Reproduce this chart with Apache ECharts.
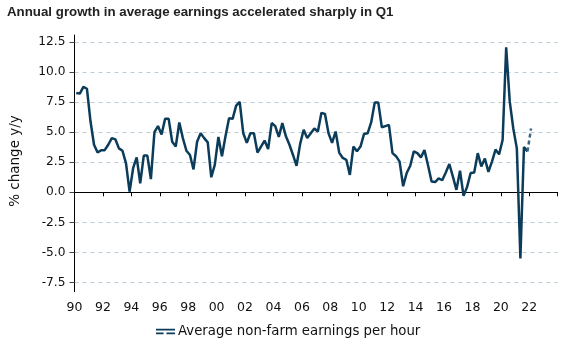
<!DOCTYPE html>
<html>
<head>
<meta charset="utf-8">
<script src="https://cdn.jsdelivr.net/npm/echarts@6/dist/echarts.min.js"></script>
<style>
html,body{margin:0;padding:0;background:#fff;}
#chart{width:572px;height:346px;}
</style>
</head>
<body>
<div id="chart"></div>
<script>
// Quarterly data, first quarter = 1990 Q1
const startYear = 1990;
const earningsGrowth = [
  8.25, 8.2, 8.75, 8.6,   // 1990
  5.9, 3.95, 3.3, 3.5,    // 1991
  3.5, 3.95, 4.5, 4.4,    // 1992
  3.65, 3.45, 2.4, 0.05,  // 1993
  2.0, 2.9, 0.75, 3.05,   // 1994
  3.05, 1.1, 5.0, 5.5,    // 1995
  4.8, 6.1, 6.1, 4.2,     // 1996
  3.8, 5.8, 4.5, 3.45,    // 1997
  3.1, 1.9, 4.2, 4.9,     // 1998
  4.5, 4.15, 1.25, 2.3,   // 1999
  4.6, 3.0, 4.65, 6.15,   // 2000
  6.1, 7.2, 7.5, 4.9,     // 2001
  4.1, 4.9, 4.9, 3.3,     // 2002
  3.8, 4.3, 3.6, 5.75,    // 2003
  5.5, 4.6, 5.75, 4.65,   // 2004
  3.95, 3.1, 2.2, 4.0,    // 2005
  5.2, 4.5, 4.9, 5.3,     // 2006
  5.05, 6.6, 6.5, 4.9,    // 2007
  4.1, 5.05, 3.3, 2.85,   // 2008
  2.7, 1.45, 3.8, 3.4,    // 2009
  3.8, 4.85, 4.9, 5.8,    // 2010
  7.45, 7.45, 5.4, 5.5,   // 2011
  5.6, 3.25, 3.0, 2.55,   // 2012
  0.5, 1.6, 2.2, 3.4,     // 2013
  3.25, 2.9, 3.5, 2.25,   // 2014
  0.9, 0.85, 1.15, 1.0,   // 2015
  1.65, 2.35, 1.3, 0.2,   // 2016
  1.8, -0.3, 0.45, 1.6,   // 2017
  1.65, 3.25, 2.15, 2.8,  // 2018
  1.7, 2.55, 3.55, 3.15,  // 2019
  4.35, 12.05, 7.55, 5.3, // 2020
  3.65, -5.5, 3.75, 3.4   // 2021
];
// Dashed estimate: 2021 Q4 -> 2022 Q1
const estimateStartIndex = 127;
const estimateValues = [3.4, 5.3];

const yTicks = [-7.5, -5.0, -2.5, 0.0, 2.5, 5.0, 7.5, 10.0, 12.5];
const xLabelYears = [1990, 1992, 1994, 1996, 1998, 2000, 2002, 2004, 2006, 2008, 2010, 2012, 2014, 2016, 2018, 2020, 2022];

const titleText = 'Annual growth in average earnings accelerated sharply in Q1';
const yName = '% change y/y';
const seriesName = 'Average non-farm earnings per hour';

// quarter -> mid-quarter position on the year axis
function qx(i) { return startYear + Math.floor(i / 4) + (i % 4) / 4 + 0.125; }
const mainData = earningsGrowth.map((v, i) => [qx(i), v]);
const estData = estimateValues.map((v, k) => [qx(estimateStartIndex + k), v]);

const W = 572, H = 346;
const axL = 74.5, axR = 557.7;
const y0px = 192.3, pxPerUnit = 12.04;
const plotTop = 35, plotBottom = 291.7;
const vMax = (y0px - plotTop) / pxPerUnit;
const vMin = -(plotBottom - y0px) / pxPerUnit;
const gTop = y0px - 12.5 * pxPerUnit;
const gBottom = y0px + 7.5 * pxPerUnit;

const font = 'DejaVu Sans, Verdana, sans-serif';
const lineColor = '#0b3c5a';

const chart = echarts.init(document.getElementById('chart'), null, {renderer: 'canvas'});
chart.setOption({
  animation: false,
  backgroundColor: '#ffffff',
  title: {
    text: titleText,
    left: 7, top: 6, padding: 0,
    textStyle: {fontFamily: 'Liberation Sans, Arial, sans-serif', fontSize: 13.3, fontWeight: 'bold', color: '#222'}
  },
  grid: [
    {left: axL, right: W - axR, top: plotTop, bottom: H - plotBottom, containLabel: false},
    {left: axL, right: W - axR, top: gTop, bottom: H - gBottom, containLabel: false}
  ],
  xAxis: [
    {
      type: 'value', gridIndex: 0, min: 1990, max: 2024, interval: 2,
      axisLine: {show: true, lineStyle: {color: '#000', width: 1}},
      axisTick: {show: true, length: 4, lineStyle: {color: '#000'}},
      axisLabel: {
        margin: 10, color: '#111', fontFamily: font, fontSize: 12.5,
        formatter: v => xLabelYears.indexOf(v) >= 0 ? String(v).slice(2) : ''
      },
      splitLine: {show: false}
    },
    {type: 'value', gridIndex: 1, min: 0, max: 1, show: false}
  ],
  yAxis: [
    {
      type: 'value', gridIndex: 0, min: vMin, max: vMax,
      axisLine: {show: true, lineStyle: {color: '#000', width: 1}},
      axisTick: {show: false}, axisLabel: {show: false}, splitLine: {show: false}
    },
    {
      type: 'value', gridIndex: 1, min: yTicks[0], max: yTicks[yTicks.length - 1], interval: 2.5,
      axisLine: {show: false},
      axisTick: {show: true, length: 5, lineStyle: {color: '#444'}},
      axisLabel: {margin: 9, color: '#111', fontFamily: font, fontSize: 12.2, formatter: v => v.toFixed(1)},
      splitLine: {show: true, lineStyle: {color: '#bccbd4', width: 1, type: [4, 4]}}
    }
  ],
  legend: {
    show: true,
    data: [{name: seriesName, icon: 'path://M0,0H20V2H0ZM0,4H8V6H0ZM11,4H20V6H11Z'}],
    left: 156, top: 325, padding: 0,
    itemWidth: 19, itemHeight: 6, itemGap: 4,
    textStyle: {fontFamily: font, fontSize: 13.3, color: '#111', padding: [0, 0, 0, -2]}
  },
  graphic: [
    {
      type: 'text', x: 15, y: 161, rotation: Math.PI / 2,
      style: {text: yName, font: '13.5px DejaVu Sans, Verdana, sans-serif', fill: '#111', align: 'center', verticalAlign: 'middle'}
    }
  ],
  series: [
    {
      name: seriesName, type: 'line', xAxisIndex: 0, yAxisIndex: 0,
      data: mainData, showSymbol: false, symbol: 'none',
      lineStyle: {color: lineColor, width: 2.5}, itemStyle: {color: lineColor}, z: 3
    },
    {
      name: 'Estimate', type: 'line', xAxisIndex: 0, yAxisIndex: 0,
      data: estData, showSymbol: false, symbol: 'none',
      lineStyle: {color: '#3b6681', width: 2.5, type: [4, 3]}, itemStyle: {color: '#3b6681'}, z: 3
    }
  ]
});
</script>
</body>
</html>
